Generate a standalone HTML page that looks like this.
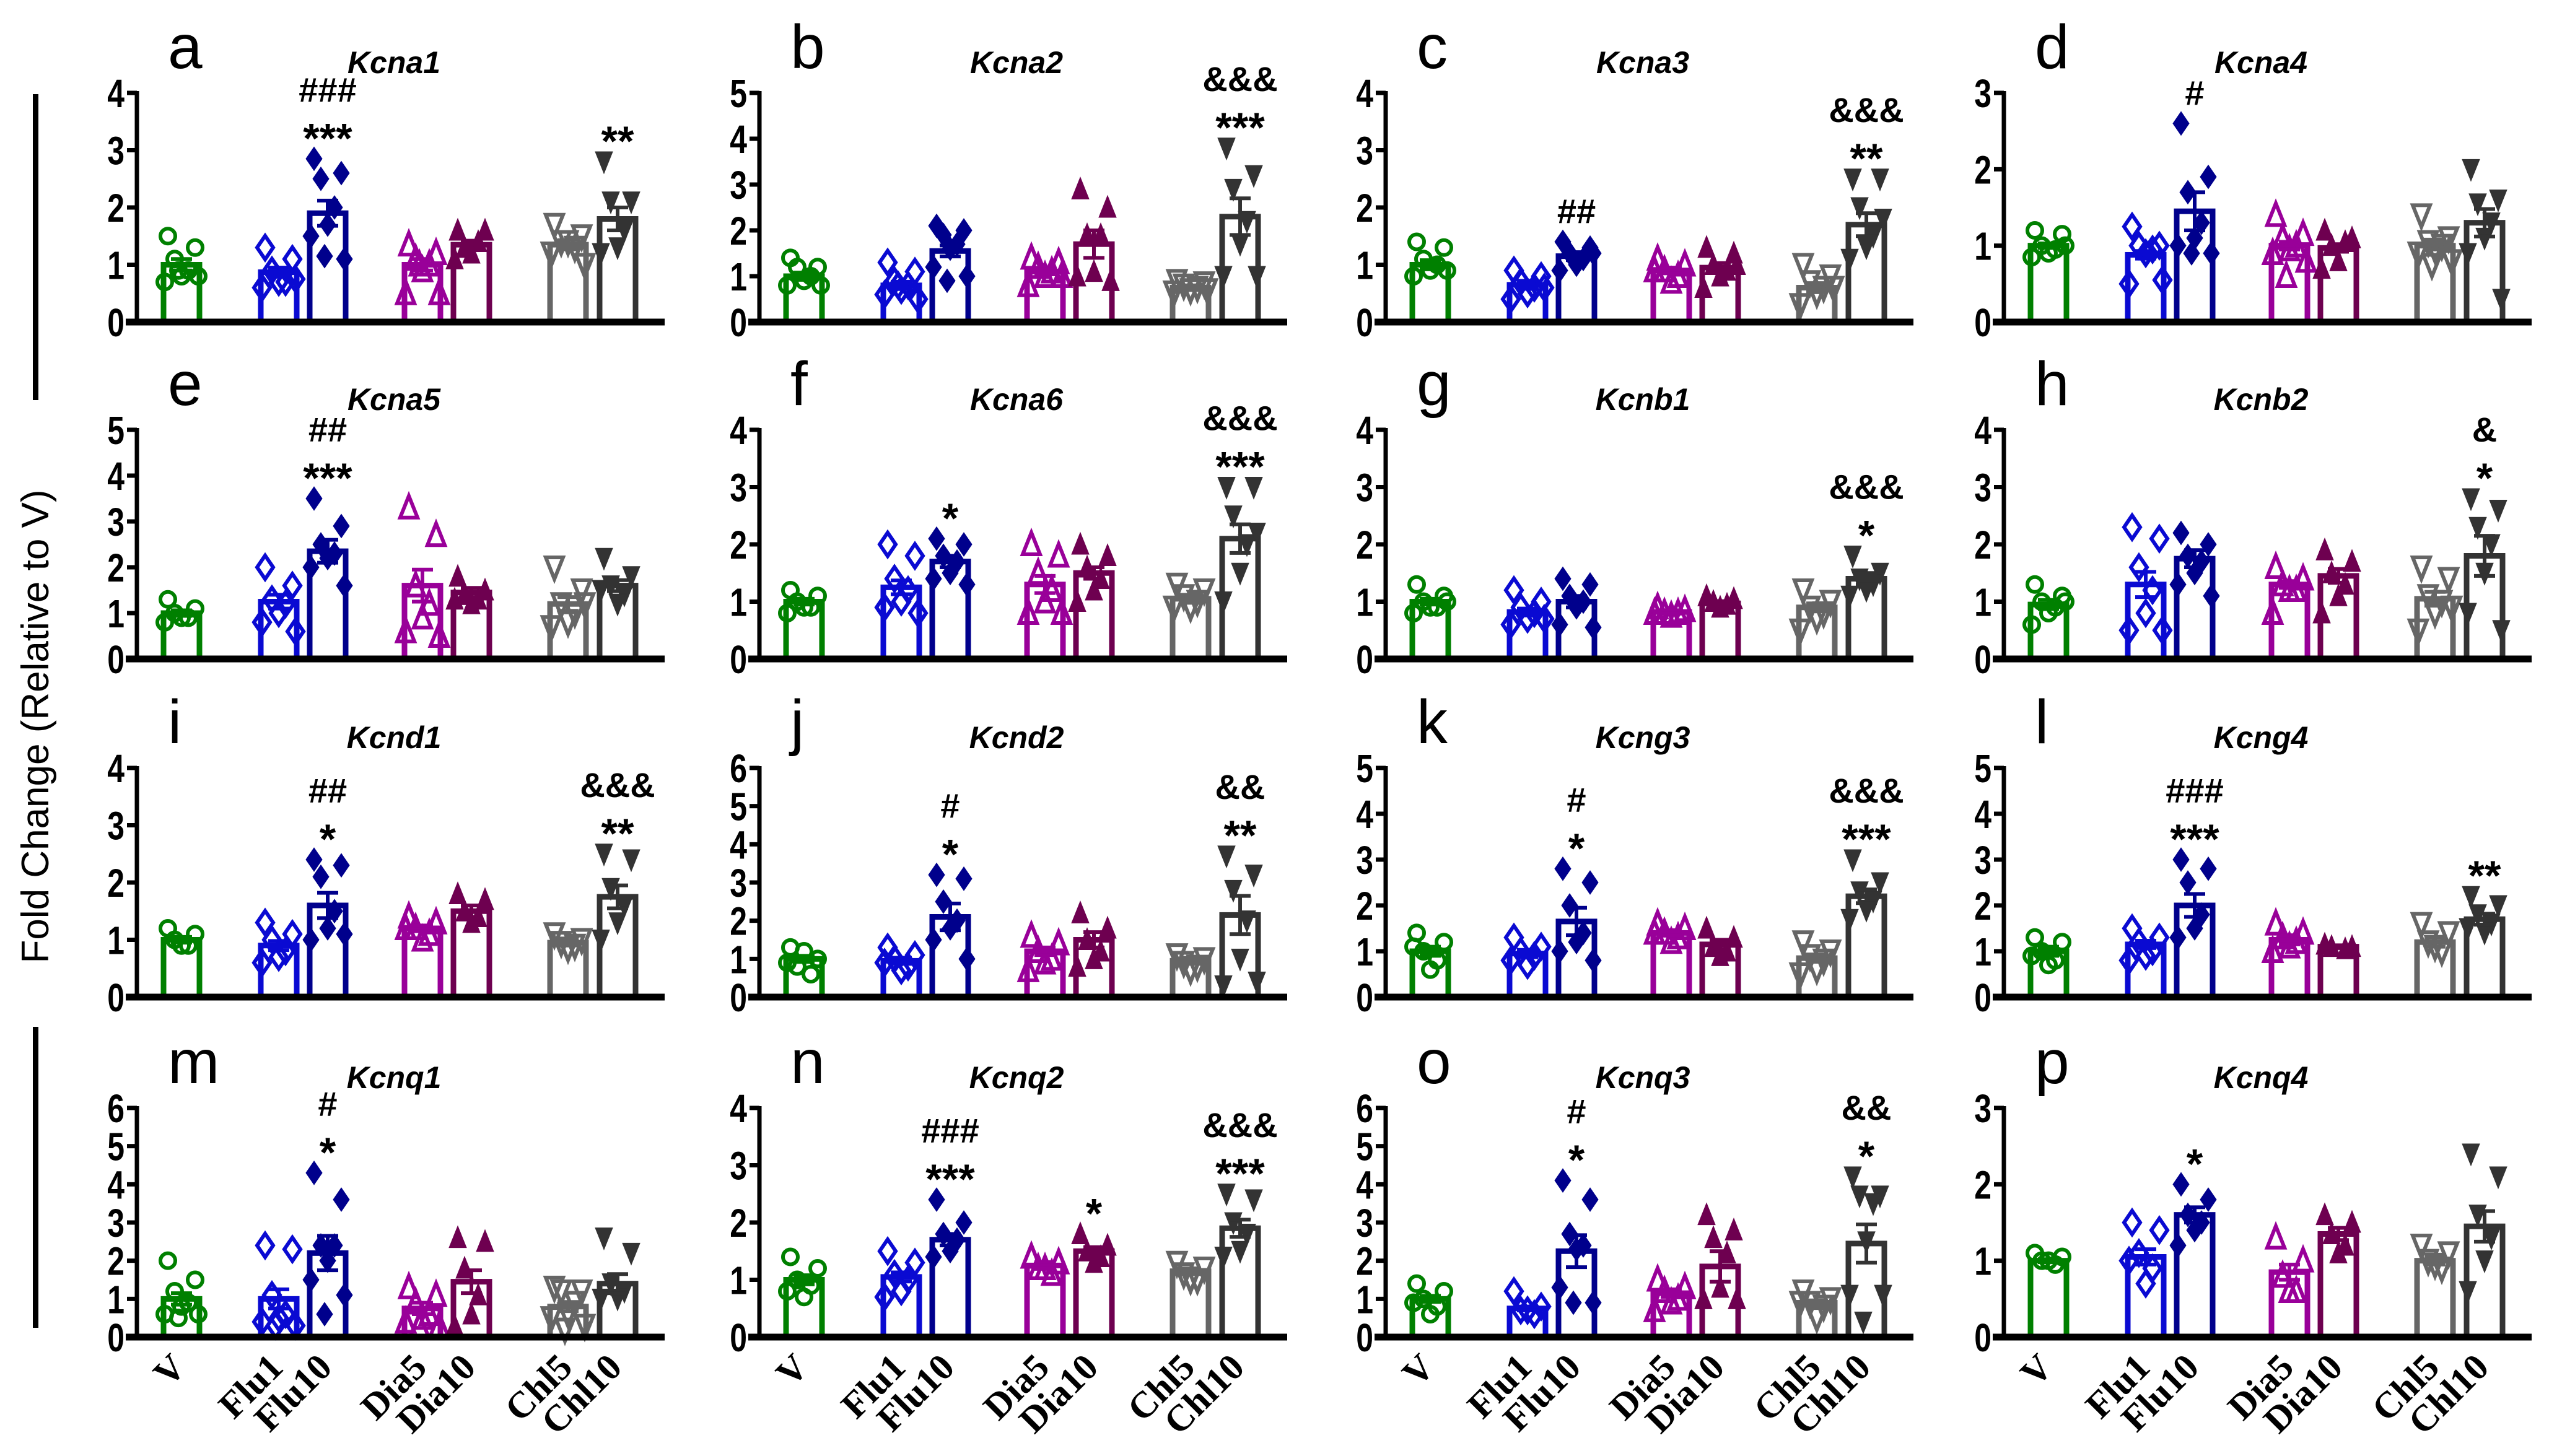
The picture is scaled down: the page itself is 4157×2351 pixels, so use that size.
<!DOCTYPE html>
<html><head><meta charset="utf-8"><style>
html,body{margin:0;padding:0;background:#fff;}
svg{display:block;}
</style></head><body>
<svg id="fig" width="4157" height="2351" viewBox="0 0 4157 2351" xmlns="http://www.w3.org/2000/svg">
<rect x="0" y="0" width="4157" height="2351" fill="#fff"/>
<rect x="53" y="152" width="9" height="494" fill="#000"/>
<rect x="53" y="1658" width="9" height="486" fill="#000"/>
<text x="78" y="1173" transform="rotate(-90 78 1173)" text-anchor="middle" font-family="Liberation Sans, sans-serif" font-size="62" fill="#000">Fold Change (Relative to V)</text>
</svg>
<script>
const groups = ["V","Flu1","Flu10","Dia5","Dia10","Chl5","Chl10"];
const letters = ["a","b","c","d","e","f","g","h","i","j","k","l","m","n","o","p"];
const genes = ["Kcna1","Kcna2","Kcna3","Kcna4","Kcna5","Kcna6","Kcnb1","Kcnb2","Kcnd1","Kcnd2","Kcng3","Kcng4","Kcnq1","Kcnq2","Kcnq3","Kcnq4"];
const yMax = [4,5,4,3,5,4,4,4,4,6,5,5,6,4,6,3];
const means = [
[1.0,0.87,1.9,1.0,1.35,1.35,1.8],
[1.0,0.8,1.55,1.1,1.7,0.75,2.3],
[1.0,0.65,1.15,0.9,0.95,0.6,1.7],
[1.0,0.88,1.45,1.0,0.97,1.0,1.3],
[1.0,1.25,2.35,1.6,1.45,1.2,1.6],
[1.0,1.25,1.7,1.3,1.5,1.05,2.1],
[1.0,0.82,1.0,0.82,0.97,0.9,1.4],
[0.95,1.3,1.75,1.3,1.45,1.05,1.8],
[1.0,0.9,1.6,1.2,1.5,0.95,1.75],
[1.0,0.95,2.1,1.2,1.5,0.95,2.15],
[1.0,0.95,1.65,1.4,1.15,0.85,2.2],
[1.0,1.15,2.0,1.25,1.1,1.2,1.7],
[1.0,1.0,2.2,0.75,1.45,0.8,1.4],
[1.0,1.05,1.7,1.25,1.5,1.15,1.9],
[1.0,0.75,2.25,1.15,1.85,0.9,2.45],
[1.0,1.05,1.6,0.85,1.35,1.0,1.45]];
const sems = [
[0.1,0.08,0.22,0.1,0.07,0.08,0.2],
[0.08,0.08,0.12,0.06,0.3,0.05,0.4],
[0.08,0.07,0.07,0.05,0.08,0.08,0.2],
[0.03,0.05,0.25,0.05,0.05,0.05,0.18],
[0.06,0.15,0.25,0.35,0.1,0.15,0.12],
[0.05,0.12,0.1,0.15,0.1,0.07,0.25],
[0.05,0.06,0.1,0.03,0.04,0.07,0.1],
[0.08,0.22,0.15,0.06,0.12,0.12,0.35],
[0.05,0.08,0.22,0.05,0.1,0.05,0.2],
[0.08,0.08,0.35,0.1,0.2,0.08,0.5],
[0.1,0.08,0.3,0.06,0.1,0.08,0.15],
[0.1,0.08,0.25,0.1,0.03,0.1,0.12],
[0.15,0.25,0.45,0.15,0.3,0.12,0.25],
[0.08,0.08,0.1,0.06,0.07,0.05,0.15],
[0.08,0.05,0.42,0.1,0.4,0.06,0.5],
[0.02,0.1,0.1,0.1,0.08,0.05,0.2]];
const points = [
[[1.5,1.3,1.1,0.9,0.8,0.7,0.8,0.9],[1.3,1.1,0.9,0.7,0.7,0.6,0.75],[2.85,2.6,2.5,2.0,1.7,1.5,1.1,1.15],[1.35,1.2,1.1,1.0,0.9,0.5,0.5,1.0],[1.6,1.6,1.3,1.4,1.2,1.1],[1.7,1.5,1.4,1.3,1.4,1.2,1.0],[2.8,2.1,2.1,1.6,1.3,1.2]],
[[1.4,1.2,1.2,1.0,0.9,0.8,0.8],[1.3,1.1,0.9,0.8,0.7,0.6,0.5,0.8],[2.1,2.0,1.9,1.7,1.6,1.2,1.0,0.9],[1.4,1.3,1.2,1.1,1.0,0.8,1.0],[2.9,2.5,1.9,1.9,1.1,1.0,0.9],[0.9,0.85,0.8,0.75,0.7,0.65,0.7],[3.8,3.2,2.9,2.2,1.7,1.0,1.0]],
[[1.4,1.3,1.1,1.0,0.9,0.8,0.9],[0.9,0.8,0.7,0.6,0.5,0.4,0.6],[1.4,1.3,1.2,1.1,1.0,0.9,1.2],[1.1,1.0,0.9,0.8,0.7,0.9],[1.3,1.2,1.0,0.9,0.8,0.6,1.0],[1.0,0.8,0.7,0.6,0.5,0.3,0.6],[2.5,2.5,2.0,1.5,1.3,1.1,1.8]],
[[1.2,1.15,1.0,0.95,0.9,0.85,1.0],[1.25,1.0,1.0,0.95,0.9,0.5,0.55],[2.6,1.9,1.7,1.3,1.1,1.0,0.9,0.9],[1.4,1.15,1.1,1.0,0.95,0.9,0.8,0.6],[1.2,1.1,1.0,1.05,0.8,0.7],[1.4,1.1,1.05,1.0,0.95,0.9,0.8,0.75],[2.0,1.6,1.55,1.3,1.1,0.9,0.3]],
[[1.3,1.1,1.0,0.9,0.9,0.8],[2.0,1.6,1.3,1.2,1.0,0.8,0.6],[3.5,2.9,2.5,2.3,2.2,2.0,1.6],[3.3,2.7,1.6,1.2,0.9,0.6,0.5],[1.8,1.5,1.4,1.3,1.2,1.3],[2.0,1.5,1.2,1.0,0.8,0.7,1.2],[2.2,1.8,1.6,1.4,1.2,1.5]],
[[1.2,1.1,1.0,0.9,0.9,0.8],[2.0,1.8,1.4,1.2,1.0,0.9,0.8],[2.1,2.0,1.8,1.7,1.5,1.4,1.3],[2.0,1.8,1.5,1.2,1.0,0.8,0.8],[2.0,1.8,1.6,1.4,1.2,1.0],[1.3,1.2,1.1,1.0,0.9,0.9],[3.0,3.0,2.5,2.0,1.5,1.0,2.2]],
[[1.3,1.1,1.0,0.9,0.9,0.8,1.0],[1.2,1.0,0.9,0.8,0.7,0.6,0.7],[1.4,1.3,1.1,1.0,0.9,0.6,0.55],[0.9,0.85,0.8,0.8,0.75,0.8],[1.1,1.05,1.0,0.95,0.9],[1.2,1.0,0.9,0.8,0.7,0.5],[1.8,1.5,1.4,1.3,1.2,1.1]],
[[1.3,1.1,1.0,0.9,0.8,0.6,1.0],[2.3,2.1,1.6,1.2,0.8,0.5,0.5],[2.2,2.0,1.8,1.7,1.5,1.3,1.1],[1.6,1.4,1.3,1.2,1.2,0.8],[1.9,1.7,1.5,1.3,1.1,0.8],[1.6,1.4,1.1,1.0,0.8,0.5,0.9],[2.8,2.6,2.3,2.0,1.5,0.8,0.5]],
[[1.2,1.1,1.0,0.9,0.9],[1.3,1.1,1.0,0.8,0.7,0.6],[2.4,2.3,2.1,1.5,1.2,1.0,1.1],[1.4,1.3,1.2,1.1,1.0,1.2],[1.8,1.7,1.5,1.4,1.3],[1.1,1.0,0.95,0.9,0.85],[2.5,2.4,1.9,1.6,1.3,1.0]],
[[1.3,1.0,0.8,0.6,1.2,0.9],[1.3,1.1,1.0,0.8,0.7,0.9],[3.2,3.1,2.5,2.0,1.8,1.5,1.0],[1.6,1.4,1.2,1.0,0.9,0.7],[2.2,1.8,1.5,1.2,1.0,0.8],[1.1,1.0,0.9,0.8,0.7],[3.7,3.2,2.8,2.0,1.0,0.3,0.4]],
[[1.4,1.2,1.0,0.8,0.6,1.1],[1.3,1.1,1.0,0.9,0.7,0.8],[2.8,2.5,2.0,1.4,1.2,1.0,0.8],[1.6,1.5,1.4,1.3,1.2,1.4],[1.5,1.3,1.1,1.0,0.9],[1.2,1.0,0.9,0.8,0.6,0.5],[3.0,2.5,2.3,2.1,1.9,1.7]],
[[1.3,1.2,1.0,0.8,0.7,0.9],[1.5,1.3,1.2,1.0,0.9,0.8],[3.0,2.8,2.5,1.8,1.5,1.3],[1.6,1.4,1.3,1.2,1.1,1.0],[1.15,1.1,1.1,1.05],[1.6,1.4,1.2,1.0,1.1],[2.2,2.0,1.8,1.6,1.4,1.5]],
[[2.0,1.5,1.2,0.9,0.8,0.6,0.6,0.5],[2.4,2.3,1.1,0.6,0.5,0.4,0.3,0.3],[4.3,3.6,2.4,2.4,2.0,1.5,1.1,0.6],[1.3,1.1,0.9,0.6,0.5,0.4,0.3,0.3],[2.6,2.5,1.8,1.1,0.6,0.3],[1.3,1.2,1.2,0.9,0.6,0.5,0.3,0.2],[2.6,2.2,1.4,1.2,1.0,1.0]],
[[1.4,1.2,1.0,0.9,0.7,0.8],[1.5,1.3,1.1,1.0,0.8,0.7],[2.4,2.0,1.8,1.7,1.5,1.4],[1.4,1.3,1.2,1.1,1.2],[1.8,1.6,1.5,1.4,1.3],[1.3,1.2,1.1,1.0,1.0],[2.5,2.4,2.0,1.8,1.5,1.4]],
[[1.4,1.2,1.0,0.8,0.6,0.9],[1.2,0.8,0.7,0.6,0.7],[4.1,3.6,2.7,2.4,2.3,1.3,0.9,0.9],[1.5,1.3,1.2,1.0,0.9,0.7],[3.2,2.8,2.6,2.2,1.3,1.0,1.0],[1.2,1.0,0.9,0.8,0.5,0.9],[4.2,3.7,3.7,3.5,2.5,1.1,1.1,0.4]],
[[1.1,1.05,1.0,0.95,1.0],[1.5,1.4,1.1,0.9,0.7,1.0],[2.0,1.8,1.6,1.5,1.4,1.2],[1.3,1.0,0.8,0.6,0.6],[1.6,1.5,1.35,1.2,1.1],[1.2,1.1,1.0,0.9,0.95],[2.4,2.1,1.6,1.3,1.0,0.6]]];
const annotations = [
[[2,["###","***"]],[6,["**"]]],
[[6,["&&&","***"]]],
[[2,["##"]],[6,["&&&","**"]]],
[[2,["#"]]],
[[2,["##","***"]]],
[[2,["*"]],[6,["&&&","***"]]],
[[6,["&&&","*"]]],
[[6,["&","*"]]],
[[2,["##","*"]],[6,["&&&","**"]]],
[[2,["#","*"]],[6,["&&","**"]]],
[[2,["#","*"]],[6,["&&&","***"]]],
[[2,["###","***"]],[6,["**"]]],
[[2,["#","*"]]],
[[2,["###","***"]],[4,["*"]],[6,["&&&","***"]]],
[[2,["#","*"]],[6,["&&","*"]]],
[[2,["*"]]]];

const colors = ["#008000","#0a0ad2","#00008c","#990099","#6e0050","#666666","#333333"];
const markerType = ["circle","diamond-open","diamond","tri-open","tri","tri-down-open","tri-down"];
const colX = [221,1226,2237,3235];
const rowBase = [520,1064,1610,2159];
const axisH = 370;
const barOff = [72,229,308,461,540,696,776];
const jitter = [-22,22,-11,11,0,-27,27,-5];
const NS = "http://www.w3.org/2000/svg";
const svg = document.getElementById("fig");

function mk(tag, attrs, parent){
  const e = document.createElementNS(NS, tag);
  for (const k in attrs) e.setAttribute(k, attrs[k]);
  (parent||svg).appendChild(e);
  return e;
}

function drawMarker(g, type, x, y, color){
  let e;
  if (type==="circle"){
    e = mk("circle",{cx:x,cy:y,r:12,fill:"none",stroke:color,"stroke-width":6},g);
  } else if (type.startsWith("diamond")){
    e = mk("polygon",{points:`${x},${y-19} ${x+13},${y} ${x},${y+19} ${x-13},${y}`,fill:type==="diamond"?color:"none",stroke:color,"stroke-width":type==="diamond"?1:6},g);
  } else if (type.startsWith("tri-down")){
    e = mk("polygon",{points:`${x-14},${y-16} ${x+14},${y-16} ${x},${y+19}`,fill:type==="tri-down"?color:"none",stroke:color,"stroke-width":type==="tri-down"?1:6},g);
  } else {
    e = mk("polygon",{points:`${x-14},${y+16} ${x+14},${y+16} ${x},${y-19}`,fill:type==="tri"?color:"none",stroke:color,"stroke-width":type==="tri"?1:6},g);
  }
  
  
}

for (let p=0; p<16; p++){
  const col = p%4, row = Math.floor(p/4);
  const ax = colX[col], base = rowBase[row];
  const ymax = yMax[p];
  const yScale = v => base - v/ymax*axisH;
  const xPos = i => ax + barOff[i];
  const g = mk("g",{});
  
  

  const lt = mk("text",{x:ax+50,y:base-410,"font-family":"Liberation Sans, sans-serif","font-size":100,fill:"#000"},g);
  lt.textContent = letters[p];
  
  
  const tt = mk("text",{x:ax+415,y:base-402,"text-anchor":"middle","font-family":"Liberation Sans, sans-serif","font-size":50,"font-weight":"bold","font-style":"italic",fill:"#000"},g);
  tt.textContent = genes[p];
  
  

  for (let i=0;i<7;i++){
    const cx = xPos(i), top = yScale(means[p][i]);
    const b = mk("rect",{x:cx-29,y:top,width:58,height:base-top,fill:"#fff",stroke:colors[i],"stroke-width":9},g);
    
    
  }
  for (let i=0;i<7;i++){
    const cx = xPos(i);
    points[p][i].forEach((v,k)=>{
      drawMarker(g, markerType[i], cx+jitter[k%jitter.length], yScale(v), colors[i]);
    });
  }
  for (let i=0;i<7;i++){
    const cx = xPos(i), m = means[p][i], s = sems[p][i];
    const eg = mk("g",{stroke:colors[i],"stroke-width":6},g);
    
    
    mk("line",{x1:cx,x2:cx,y1:yScale(m-s),y2:yScale(m+s)},eg);
    mk("line",{x1:cx-17,x2:cx+17,y1:yScale(m+s),y2:yScale(m+s)},eg);
    mk("line",{x1:cx-17,x2:cx+17,y1:yScale(m-s),y2:yScale(m-s)},eg);
  }
  const ya = mk("line",{x1:ax,x2:ax,y1:yScale(ymax)-3,y2:base,stroke:"#000","stroke-width":7},g);
  
  
  const xa = mk("line",{x1:ax-18,x2:ax+852,y1:base,y2:base,stroke:"#000","stroke-width":11},g);
  
  
  for (let t=0;t<=ymax;t++){
    const y = yScale(t);
    const tk = mk("line",{x1:ax-16,x2:ax,y1:y,y2:y,stroke:"#000","stroke-width":7},g);
    
    
    const tl = mk("text",{x:ax-20,y:y+23,"text-anchor":"end","font-family":"Liberation Sans, sans-serif","font-size":64,"font-weight":"bold",fill:"#000",transform:`translate(${ax-20} 0) scale(0.78 1) translate(${-(ax-20)} 0)`},g);
    tl.textContent = String(t);
    
    
  }
  annotations[p].forEach(([gi, lines])=>{
    const cx = xPos(gi);
    const topVal = Math.max(...points[p][gi], means[p][gi]+sems[p][gi]);
    let y = yScale(topVal) - 30;
    for (let li=lines.length-1; li>=0; li--){
      const s = lines[li];
      const isStar = s[0]==="*";
      const at = mk("text",{x:cx,y:isStar? y+20 : y,"text-anchor":"middle","font-family":"Liberation Sans, sans-serif","font-size":isStar?68:56,"font-weight":"bold",fill:"#000"},g);
      at.textContent = s;
      
      
      y -= isStar ? 62 : 64;
    }
  });
  if (row===3){
    for (let i=0;i<7;i++){
      const ex = xPos(i)+10, ey = base+52;
      const xl = mk("text",{x:ex,y:ey,"text-anchor":"end","font-family":"Liberation Serif, serif","font-size":60,"font-weight":"bold",fill:"#000",transform:`rotate(-45 ${ex} ${ey})`},g);
      xl.textContent = groups[i];
      
      
    }
  }
}
</script>
</body></html>
